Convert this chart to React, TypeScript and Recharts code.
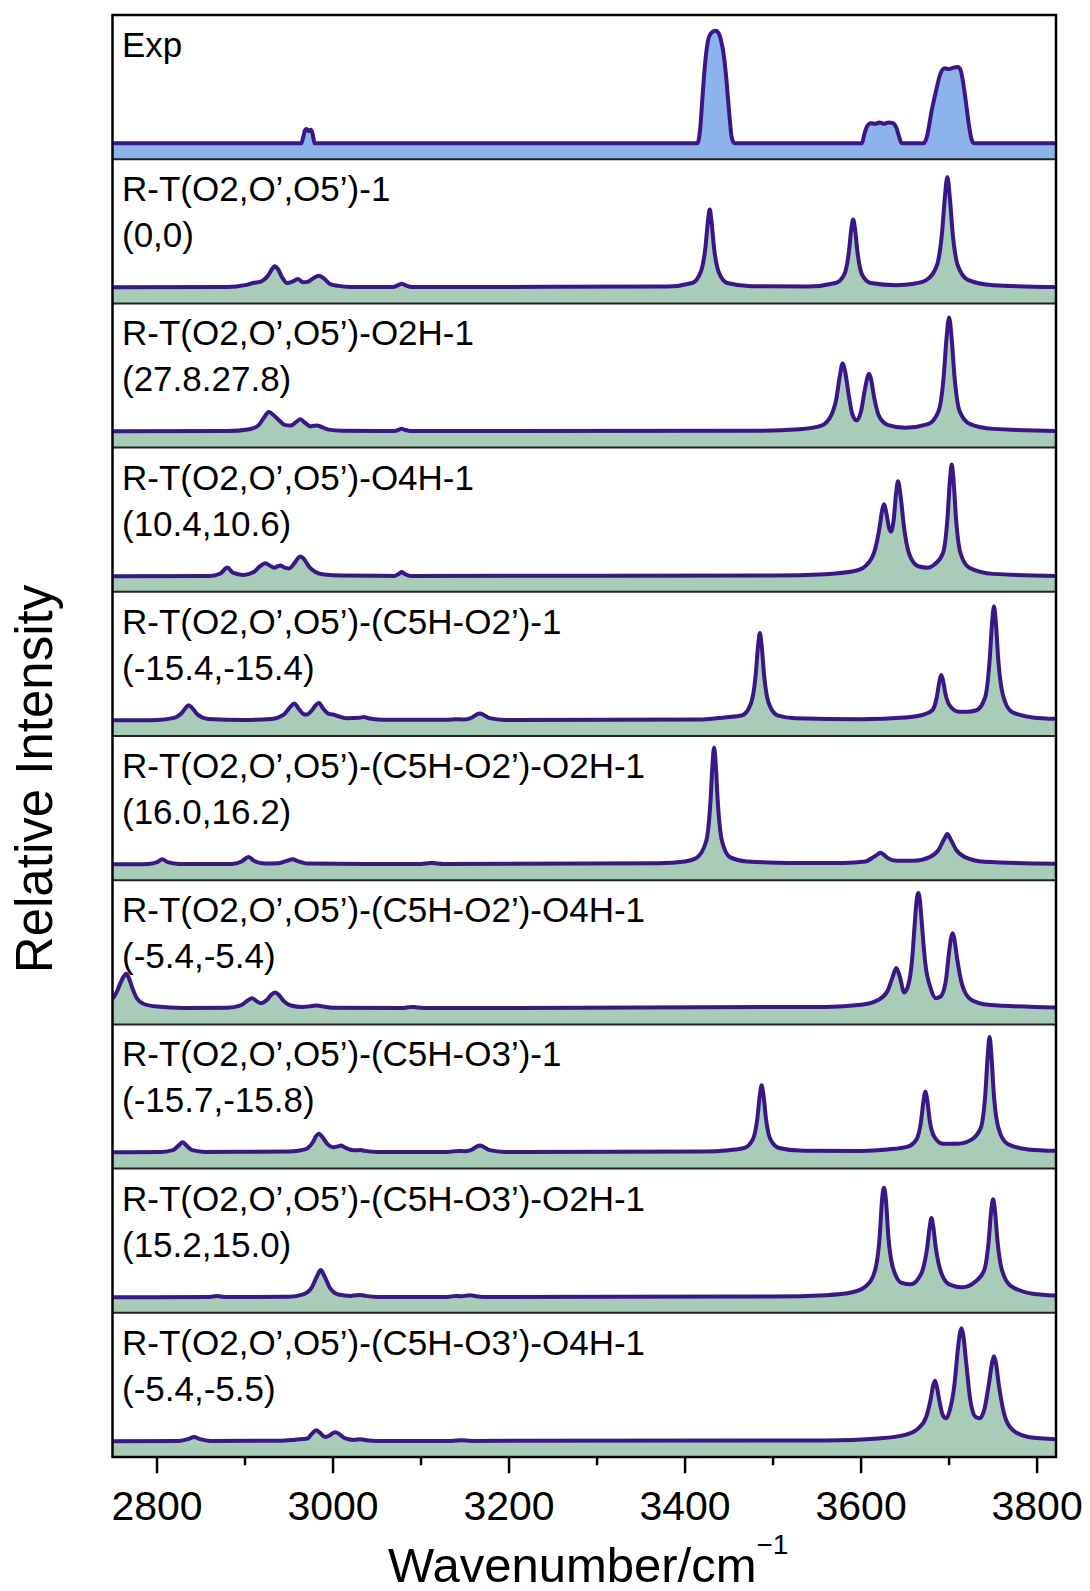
import { AreaChart, Area, XAxis, YAxis } from 'recharts';

// wavenumber axis
const wnDomain: [number, number] = [2750, 3822];
const wnTicks = [2800, 2900, 3000, 3100, 3200, 3300, 3400, 3500, 3600, 3700, 3800];

// spectra: [wavenumber, relative intensity within its panel]
const expSpectrum: [number, number][] = [
  [2750, 0.11], [2964, 0.11], [2966, 0.15], [2968, 0.2], [2970, 0.21], [2972, 0.195], [2975, 0.205], [2977, 0.17], [2979, 0.11],
  [3414, 0.11], [3417, 0.2], [3420, 0.45], [3423, 0.68], [3426, 0.82], [3429, 0.87], [3432, 0.885], [3435, 0.89], [3438, 0.875],
  [3441, 0.82], [3444, 0.72], [3447, 0.55], [3450, 0.33], [3453, 0.15], [3456, 0.11],
  [3601, 0.11], [3604, 0.18], [3607, 0.23], [3611, 0.25], [3616, 0.245], [3621, 0.255], [3626, 0.245], [3631, 0.255], [3636, 0.25],
  [3640, 0.22], [3643, 0.16], [3646, 0.11],
  [3671, 0.11], [3675, 0.16], [3680, 0.33], [3685, 0.47], [3690, 0.59], [3695, 0.63], [3700, 0.625], [3705, 0.635], [3710, 0.64],
  [3713, 0.62], [3716, 0.53], [3719, 0.4], [3722, 0.26], [3725, 0.15], [3728, 0.11], [3822, 0.11],
];

const rt1: [number, number][] = [
  [2750, 0.11], [2880, 0.112], [2900, 0.125], [2909, 0.14], [2918, 0.15], [2926, 0.19], [2931, 0.24], [2934, 0.256], [2937, 0.24],
  [2942, 0.18], [2948, 0.14], [2954, 0.15], [2960, 0.167], [2966, 0.145], [2972, 0.15], [2978, 0.175], [2984, 0.19], [2990, 0.17],
  [2996, 0.135], [3006, 0.12], [3020, 0.113], [3068, 0.112], [3074, 0.125], [3078, 0.135], [3082, 0.125], [3090, 0.112],
  [3380, 0.116], [3408, 0.14], [3418, 0.22], [3423, 0.38], [3426, 0.57], [3428, 0.65], [3430, 0.57], [3433, 0.38], [3438, 0.22],
  [3448, 0.14], [3475, 0.118], [3540, 0.116], [3571, 0.14], [3581, 0.2], [3586, 0.35], [3589, 0.52], [3591, 0.58], [3593, 0.52],
  [3596, 0.35], [3601, 0.2], [3611, 0.14], [3640, 0.125], [3660, 0.135], [3674, 0.16], [3686, 0.26], [3692, 0.49], [3695, 0.72],
  [3698, 0.875], [3701, 0.72], [3704, 0.49], [3710, 0.26], [3722, 0.16], [3750, 0.125], [3822, 0.112],
];

const rt2: [number, number][] = [
  [2750, 0.11], [2880, 0.112], [2905, 0.125], [2915, 0.15], [2921, 0.2], [2927, 0.244], [2932, 0.225], [2938, 0.19], [2945, 0.155],
  [2952, 0.15], [2958, 0.175], [2963, 0.193], [2968, 0.17], [2974, 0.145], [2978, 0.148], [2982, 0.151], [2987, 0.14], [2995, 0.122],
  [3010, 0.114], [3070, 0.112], [3075, 0.122], [3078, 0.128], [3081, 0.122], [3088, 0.112],
  [3480, 0.114], [3530, 0.125], [3555, 0.15], [3566, 0.22], [3572, 0.34], [3576, 0.5], [3579, 0.58], [3582, 0.52], [3586, 0.36],
  [3590, 0.23], [3595, 0.186], [3600, 0.25], [3604, 0.39], [3607, 0.48], [3609, 0.51], [3611, 0.48], [3615, 0.34], [3620, 0.22],
  [3630, 0.155], [3650, 0.135], [3676, 0.16], [3688, 0.25], [3694, 0.5], [3697, 0.75], [3700, 0.9], [3703, 0.75], [3706, 0.5],
  [3712, 0.25], [3724, 0.16], [3750, 0.127], [3822, 0.113],
];

const rt3: [number, number][] = [
  [2750, 0.11], [2860, 0.113], [2872, 0.13], [2880, 0.171], [2886, 0.135], [2898, 0.12], [2910, 0.14], [2917, 0.18], [2923, 0.2],
  [2928, 0.185], [2933, 0.17], [2937, 0.18], [2940, 0.185], [2945, 0.17], [2950, 0.165], [2956, 0.2], [2960, 0.235], [2963, 0.248],
  [2967, 0.23], [2973, 0.175], [2980, 0.14], [2990, 0.122], [3010, 0.115], [3070, 0.113], [3075, 0.128], [3078, 0.14], [3081, 0.128],
  [3088, 0.113], [3500, 0.115], [3560, 0.125], [3595, 0.15], [3608, 0.2], [3616, 0.3], [3621, 0.45], [3624, 0.57], [3626, 0.61],
  [3629, 0.54], [3632, 0.44], [3634, 0.42], [3637, 0.5], [3640, 0.7], [3642, 0.77], [3645, 0.66], [3649, 0.44], [3655, 0.26],
  [3665, 0.18], [3676, 0.17], [3683, 0.19], [3693, 0.27], [3698, 0.5], [3701, 0.78], [3703, 0.885], [3705, 0.78], [3708, 0.5],
  [3713, 0.27], [3723, 0.17], [3750, 0.127], [3822, 0.113],
];

const rt4: [number, number][] = [
  [2750, 0.11], [2800, 0.113], [2818, 0.125], [2828, 0.16], [2833, 0.2], [2836, 0.215], [2840, 0.195], [2846, 0.15], [2858, 0.12],
  [2900, 0.113], [2930, 0.12], [2944, 0.15], [2951, 0.2], [2956, 0.226], [2961, 0.19], [2966, 0.155], [2970, 0.15], [2976, 0.18],
  [2981, 0.22], [2984, 0.23], [2989, 0.19], [2995, 0.155], [3000, 0.15], [3005, 0.14], [3015, 0.125], [3030, 0.128], [3035, 0.133],
  [3040, 0.124], [3055, 0.114], [3130, 0.114], [3139, 0.118], [3148, 0.116], [3158, 0.13], [3163, 0.15], [3167, 0.157], [3171, 0.148],
  [3178, 0.125], [3195, 0.113], [3420, 0.116], [3445, 0.13], [3465, 0.145], [3475, 0.23], [3480, 0.41], [3483, 0.63], [3485, 0.715],
  [3487, 0.63], [3490, 0.41], [3495, 0.23], [3505, 0.145], [3525, 0.125], [3600, 0.118], [3650, 0.13], [3671, 0.15], [3681, 0.18],
  [3686, 0.27], [3689, 0.38], [3691, 0.424], [3693, 0.39], [3696, 0.29], [3701, 0.21], [3711, 0.17], [3721, 0.17], [3731, 0.18],
  [3741, 0.27], [3746, 0.52], [3749, 0.8], [3751, 0.9], [3753, 0.8], [3756, 0.52], [3761, 0.29], [3771, 0.17], [3795, 0.13], [3822, 0.12],
];

const rt5: [number, number][] = [
  [2750, 0.11], [2790, 0.113], [2800, 0.125], [2806, 0.145], [2812, 0.125], [2825, 0.113], [2885, 0.113], [2896, 0.13], [2904, 0.161],
  [2910, 0.135], [2922, 0.116], [2938, 0.118], [2948, 0.135], [2954, 0.145], [2960, 0.132], [2972, 0.115], [3100, 0.112], [3108, 0.118],
  [3112, 0.12], [3116, 0.118], [3125, 0.112], [3370, 0.118], [3400, 0.13], [3413, 0.155], [3424, 0.27], [3429, 0.56], [3431, 0.79],
  [3433, 0.92], [3435, 0.79], [3437, 0.56], [3442, 0.27], [3451, 0.16], [3470, 0.13], [3520, 0.12], [3580, 0.12], [3605, 0.13],
  [3614, 0.16], [3619, 0.18], [3622, 0.19], [3625, 0.18], [3630, 0.155], [3640, 0.135], [3660, 0.135], [3678, 0.16], [3688, 0.21],
  [3694, 0.28], [3698, 0.32], [3702, 0.28], [3708, 0.21], [3718, 0.16], [3740, 0.128], [3822, 0.114],
];

const rt6: [number, number][] = [
  [2750, 0.18], [2754, 0.22], [2758, 0.28], [2762, 0.33], [2765, 0.35], [2768, 0.32], [2772, 0.25], [2777, 0.18], [2785, 0.14],
  [2800, 0.122], [2830, 0.113], [2880, 0.114], [2895, 0.13], [2903, 0.165], [2908, 0.18], [2913, 0.16], [2918, 0.145], [2925, 0.17],
  [2930, 0.205], [2934, 0.22], [2938, 0.205], [2944, 0.16], [2952, 0.13], [2965, 0.12], [2975, 0.125], [2982, 0.13], [2989, 0.122],
  [3000, 0.114], [3080, 0.112], [3086, 0.118], [3090, 0.12], [3094, 0.118], [3102, 0.112], [3560, 0.12], [3600, 0.135], [3620, 0.17],
  [3630, 0.23], [3636, 0.33], [3640, 0.39], [3644, 0.33], [3649, 0.22], [3654, 0.28], [3658, 0.45], [3661, 0.7], [3663, 0.85],
  [3665, 0.91], [3667, 0.85], [3669, 0.7], [3673, 0.42], [3679, 0.25], [3685, 0.18], [3690, 0.19], [3696, 0.29], [3700, 0.5],
  [3702, 0.59], [3704, 0.63], [3706, 0.59], [3709, 0.46], [3715, 0.27], [3725, 0.17], [3745, 0.135], [3822, 0.115],
];

const rt7: [number, number][] = [
  [2750, 0.11], [2805, 0.113], [2818, 0.125], [2825, 0.16], [2829, 0.18], [2833, 0.16], [2840, 0.125], [2855, 0.113], [2950, 0.115],
  [2968, 0.13], [2977, 0.18], [2981, 0.225], [2984, 0.238], [2988, 0.215], [2994, 0.165], [3000, 0.145], [3005, 0.15], [3009, 0.157],
  [3013, 0.145], [3020, 0.128], [3027, 0.124], [3031, 0.126], [3036, 0.12], [3050, 0.113], [3130, 0.113], [3142, 0.12], [3150, 0.118],
  [3158, 0.13], [3163, 0.15], [3167, 0.157], [3171, 0.148], [3178, 0.125], [3195, 0.113], [3420, 0.115], [3450, 0.125], [3467, 0.14],
  [3477, 0.2], [3482, 0.34], [3485, 0.51], [3487, 0.575], [3489, 0.51], [3492, 0.34], [3497, 0.2], [3507, 0.14], [3530, 0.122],
  [3600, 0.12], [3630, 0.13], [3653, 0.15], [3663, 0.2], [3668, 0.32], [3671, 0.47], [3673, 0.53], [3675, 0.48], [3678, 0.33],
  [3683, 0.22], [3693, 0.17], [3710, 0.17], [3726, 0.2], [3736, 0.28], [3741, 0.5], [3744, 0.79], [3746, 0.91], [3748, 0.79],
  [3751, 0.5], [3756, 0.28], [3766, 0.17], [3790, 0.13], [3822, 0.12],
];

const rt8: [number, number][] = [
  [2750, 0.11], [2858, 0.112], [2868, 0.12], [2878, 0.112], [2950, 0.114], [2966, 0.13], [2976, 0.18], [2982, 0.26], [2986, 0.3],
  [2990, 0.26], [2996, 0.18], [3006, 0.13], [3020, 0.12], [3026, 0.124], [3031, 0.126], [3037, 0.12], [3050, 0.113], [3130, 0.113],
  [3139, 0.12], [3146, 0.117], [3152, 0.122], [3156, 0.125], [3161, 0.119], [3172, 0.113], [3500, 0.115], [3560, 0.125], [3590, 0.145],
  [3606, 0.19], [3616, 0.3], [3621, 0.52], [3624, 0.8], [3626, 0.87], [3628, 0.8], [3631, 0.53], [3636, 0.32], [3646, 0.21],
  [3656, 0.2], [3665, 0.24], [3670, 0.3], [3675, 0.45], [3678, 0.6], [3680, 0.66], [3682, 0.6], [3685, 0.45], [3690, 0.3],
  [3700, 0.2], [3715, 0.18], [3730, 0.22], [3740, 0.3], [3745, 0.5], [3748, 0.72], [3750, 0.79], [3752, 0.72], [3755, 0.5],
  [3760, 0.3], [3770, 0.19], [3795, 0.135], [3822, 0.122],
];

const rt9: [number, number][] = [
  [2750, 0.11], [2825, 0.113], [2835, 0.125], [2842, 0.14], [2849, 0.125], [2860, 0.113], [2940, 0.114], [2955, 0.12], [2965, 0.126],
  [2971, 0.13], [2977, 0.17], [2981, 0.187], [2985, 0.17], [2991, 0.14], [2996, 0.15], [3000, 0.168], [3003, 0.173], [3007, 0.16],
  [3014, 0.13], [3024, 0.12], [3031, 0.125], [3038, 0.118], [3050, 0.113], [3135, 0.113], [3146, 0.118], [3157, 0.113], [3560, 0.116],
  [3620, 0.13], [3650, 0.155], [3665, 0.2], [3674, 0.28], [3679, 0.4], [3682, 0.5], [3684, 0.53], [3686, 0.49], [3689, 0.39],
  [3693, 0.29], [3697, 0.27], [3701, 0.33], [3706, 0.5], [3710, 0.75], [3712, 0.85], [3714, 0.894], [3716, 0.85], [3719, 0.68],
  [3724, 0.4], [3730, 0.28], [3735, 0.27], [3740, 0.33], [3745, 0.5], [3749, 0.66], [3751, 0.7], [3753, 0.66], [3757, 0.48],
  [3763, 0.29], [3772, 0.19], [3790, 0.14], [3822, 0.125],
];

const titles = [
  'Exp',
  'R-T(O2,O’,O5’)-1',
  'R-T(O2,O’,O5’)-O2H-1',
  'R-T(O2,O’,O5’)-O4H-1',
  'R-T(O2,O’,O5’)-(C5H-O2’)-1',
  'R-T(O2,O’,O5’)-(C5H-O2’)-O2H-1',
  'R-T(O2,O’,O5’)-(C5H-O2’)-O4H-1',
  'R-T(O2,O’,O5’)-(C5H-O3’)-1',
  'R-T(O2,O’,O5’)-(C5H-O3’)-O2H-1',
  'R-T(O2,O’,O5’)-(C5H-O3’)-O4H-1',
];
const energies = ['', '(0,0)', '(27.8.27.8)', '(10.4,10.6)', '(-15.4,-15.4)', '(16.0,16.2)', '(-5.4,-5.4)', '(-15.7,-15.8)', '(15.2,15.0)', '(-5.4,-5.5)'];
const spectra = [expSpectrum, rt1, rt2, rt3, rt4, rt5, rt6, rt7, rt8, rt9];

const FONT = '"Liberation Sans", Arial, sans-serif';
const LINE = '#3A1687';
const GREEN = '#A8CCB8';
const BLUE = '#8DB4EA';

const PLOT_LEFT = 112.5;
const PLOT_TOP = 15;
const PLOT_W = 943.5;
const PANEL_H = 144.2;
const AXIS_H = 75;
const SIDE_L = 60;
const SIDE_R = 40;

function WaveTick(props: any) {
  const { x, y, payload } = props;
  const major = payload.value % 200 === 0;
  return (
    <g>
      <line x1={x} x2={x} y1={y} y2={y + (major ? 16 : 8)} stroke="#000" strokeWidth={2.5} />
      {major && (
        <text x={x} y={y + 63} textAnchor="middle" fontSize={41} fontFamily={FONT} fill="#000">
          {payload.value}
        </text>
      )}
    </g>
  );
}

function Panel({ index }: { index: number }) {
  const rows = spectra[index].map(([w, v]) => ({ w, v }));
  const last = index === spectra.length - 1;
  const top = PLOT_TOP + index * PANEL_H;
  return (
    <div style={{ position: 'absolute', left: last ? PLOT_LEFT - SIDE_L : PLOT_LEFT, top }}>
      <AreaChart
        width={last ? PLOT_W + SIDE_L + SIDE_R : PLOT_W}
        height={last ? PANEL_H + AXIS_H : PANEL_H}
        data={rows}
        margin={{ top: 0, right: last ? SIDE_R : 0, bottom: 0, left: last ? SIDE_L : 0 }}
      >
        <XAxis
          type="number"
          dataKey="w"
          domain={wnDomain}
          allowDataOverflow
          hide={!last}
          ticks={wnTicks}
          interval={0}
          tickSize={0}
          tickMargin={0}
          axisLine={false}
          tickLine={false}
          height={AXIS_H}
          tick={(p: any) => <WaveTick {...p} />}
        />
        <YAxis type="number" domain={[0, 1]} allowDataOverflow hide />
        <Area
          type="monotone"
          dataKey="v"
          stroke={LINE}
          strokeWidth={4}
          fill={index === 0 ? BLUE : GREEN}
          fillOpacity={1}
          baseValue={0}
          dot={false}
          activeDot={false}
          isAnimationActive={false}
        />
      </AreaChart>
    </div>
  );
}

export default function App() {
  return (
    <div style={{ position: 'absolute', left: 0, top: 0, width: 1090, height: 1591, background: '#fff', overflow: 'hidden' }}>
      {spectra.map((_, i) => (
        <Panel key={i} index={i} />
      ))}
      <svg width={1090} height={1591} style={{ position: 'absolute', left: 0, top: 0, pointerEvents: 'none' }}>
        {titles.map((t, i) => (
          <text key={t} fontFamily={FONT} fontSize={35} fill="#000">
            <tspan x={122} y={PLOT_TOP + i * PANEL_H + 42}>{t}</tspan>
            {energies[i] && <tspan x={122} y={PLOT_TOP + i * PANEL_H + 88}>{energies[i]}</tspan>}
          </text>
        ))}
        {titles.slice(1).map((t, i) => (
          <line key={'sep' + t} x1={PLOT_LEFT} x2={PLOT_LEFT + PLOT_W} y1={PLOT_TOP + (i + 1) * PANEL_H} y2={PLOT_TOP + (i + 1) * PANEL_H} stroke="#222" strokeWidth={2} />
        ))}
        <rect x={PLOT_LEFT} y={PLOT_TOP} width={PLOT_W} height={PANEL_H * 10} fill="none" stroke="#000" strokeWidth={2.5} />
        <text transform="translate(52, 779) rotate(-90)" textAnchor="middle" fontFamily={FONT} fontSize={51} fill="#000">
          Relative Intensity
        </text>
        <text x={388} y={1582} fontFamily={FONT} fontSize={49} fill="#000">
          Wavenumber/cm
          <tspan dy={-28} fontSize={28}>−1</tspan>
        </text>
      </svg>
    </div>
  );
}
